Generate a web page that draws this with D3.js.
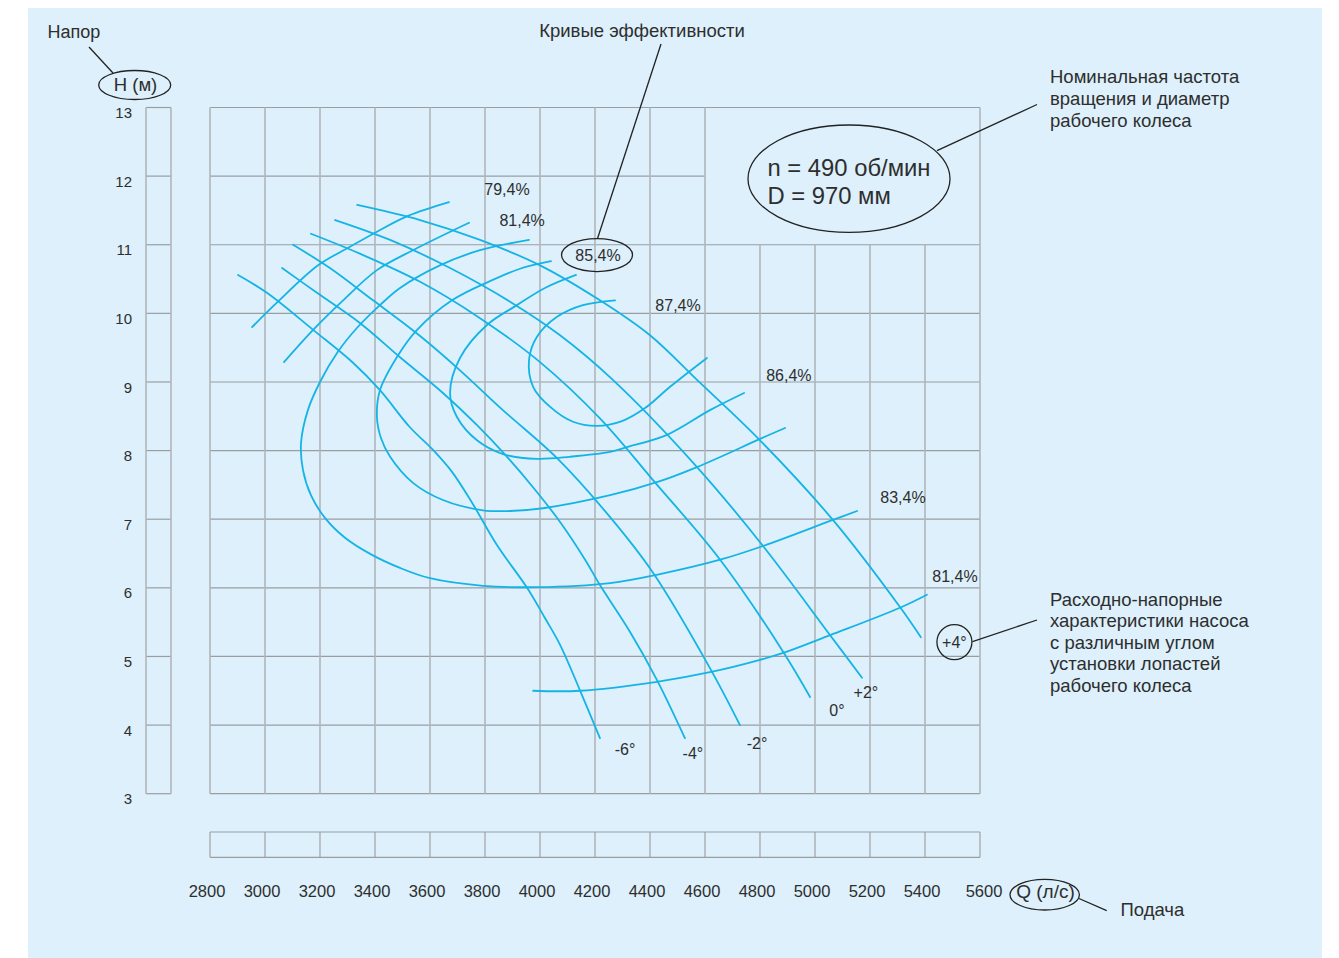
<!DOCTYPE html>
<html>
<head>
<meta charset="utf-8">
<script src="https://cdn.jsdelivr.net/npm/d3@7"></script>
<style>
  html, body { margin: 0; padding: 0; background: #ffffff; }
  svg { display: block; font-family: "Liberation Sans", Arial, sans-serif; }
</style>
</head>
<body>
<svg id="chart" width="1339" height="958"></svg>
<script>
// ---- Axis values ----
const flowTicks = [2800, 3000, 3200, 3400, 3600, 3800, 4000, 4200, 4400, 4600, 4800, 5000, 5200, 5400, 5600];
const headTicks = [3, 4, 5, 6, 7, 8, 9, 10, 11, 12, 13];

// ---- Pump head–flow characteristics, one per blade angle: [Q (l/s), H (m)] ----
const angleNames = ["-6°", "-4°", "-2°", "0°", "+2°", "+4°"];
const angleM6 = [[2902,10.56],[3007,10.30],[3175,9.76],[3320,9.28],[3418,8.88],[3527,8.34],[3611,8.01],[3680,7.69],[3753,7.24],[3844,6.62],[3953,6.00],[4018,5.56],[4073,5.17],[4145,4.51],[4218,3.81]];
const angleM4 = [[3062,10.66],[3189,10.30],[3345,9.86],[3491,9.36],[3647,8.84],[3771,8.37],[3873,7.94],[3982,7.43],[4073,6.96],[4164,6.41],[4218,6.04],[4327,5.36],[4425,4.66],[4527,3.81]];
const angleM2 = [[3102,11.00],[3236,10.66],[3393,10.19],[3564,9.67],[3709,9.17],[3865,8.59],[4062,7.89],[4255,7.03],[4411,6.22],[4618,4.83],[4727,4.00]];
const angle0  = [[3167,11.16],[3345,10.87],[3564,10.46],[3782,9.93],[4000,9.29],[4218,8.47],[4411,7.57],[4655,6.41],[4884,5.07],[4982,4.41]];
const angleP2 = [[3255,11.36],[3455,11.07],[3673,10.66],[3891,10.17],[4073,9.68],[4265,9.03],[4571,7.76],[4811,6.61],[5055,5.31],[5171,4.69]];
const angleP4 = [[3335,11.58],[3564,11.36],[3782,11.07],[4000,10.70],[4218,10.19],[4400,9.68],[4571,9.03],[4800,8.15],[5065,6.99],[5309,5.72],[5385,5.28]];
// where each angle name sits: [Q, H]
const angleLabelAt = [[4309,3.65],[4556,3.59],[4789,3.74],[5080,4.22],[5185,4.48],[5507,5.21]];

// ---- Efficiency contours: [Q (l/s), H (m)] ----
const effNames = ["79,4%", "81,4%", "83,4%", "85,4%", "86,4%", "87,4%", "81,4%"];
const eff794 = [[2953,9.80],[3047,10.17],[3193,10.70],[3309,10.97],[3407,11.19],[3520,11.42],[3669,11.62]];
const eff814Upper = [[3069,9.29],[3175,9.76],[3284,10.19],[3407,10.63],[3538,10.92],[3742,11.32]];
const eff834 = [[3960,11.07],[3782,10.92],[3636,10.70],[3491,10.37],[3418,10.12],[3335,9.79],[3265,9.44],[3200,9.00],[3156,8.59],[3131,8.11],[3138,7.72],[3167,7.35],[3218,7.02],[3291,6.73],[3389,6.48],[3491,6.29],[3600,6.14],[3793,6.03],[3989,6.01],[4255,6.07],[4436,6.20],[4655,6.41],[4811,6.61],[5065,6.99],[5153,7.12]];
const eff854 = [[4040,10.76],[3927,10.65],[3818,10.47],[3680,10.19],[3553,9.76],[3484,9.39],[3418,8.88],[3407,8.49],[3422,8.18],[3455,7.91],[3538,7.53],[3647,7.28],[3793,7.13],[3891,7.12],[4011,7.16],[4255,7.35],[4425,7.54],[4571,7.76],[4800,8.17],[4891,8.33]];
const eff864 = [[4131,10.56],[4018,10.37],[3916,10.12],[3807,9.83],[3709,9.35],[3673,8.84],[3698,8.49],[3771,8.15],[3865,7.95],[3989,7.88],[4109,7.91],[4255,7.98],[4316,8.05],[4462,8.23],[4618,8.59],[4742,8.84]];
const eff874 = [[4273,10.19],[4156,10.12],[4062,9.95],[3989,9.66],[3960,9.32],[3975,8.93],[4036,8.64],[4120,8.42],[4207,8.36],[4298,8.43],[4382,8.62],[4473,8.93],[4607,9.35]];
const eff814Lower = [[3975,4.50],[4145,4.50],[4425,4.63],[4618,4.77],[4800,4.95],[4898,5.07],[5055,5.31],[5309,5.71],[5407,5.90]];
// where each efficiency name sits: [Q, H]
const effLabelAt = [[3880,11.80],[3935,11.36],[5320,7.32],[4211,10.85],[4905,9.09],[4502,10.11],[5509,6.16]];

// ---- Rating text ----
const ratingLines = ["n = 490 об/мин", "D = 970 мм"];

// ---- Layout ----
const svg = d3.select("#chart");
const W = 1339, H = 958;
const ink = "#2e2e2e";
const cyan = "#14b4e6";
const gridV = "#b2b6ba";
const gridH = "#9a9ea3";

const x = d3.scaleLinear().domain([2800, 5600]).range([210, 980]);
const y = d3.scaleLinear().domain([3, 13]).range([793.7, 107.5]);

// backdrop panel
svg.append("rect").attr("x", 0).attr("y", 0).attr("width", W).attr("height", H).attr("fill", "#ffffff");
svg.append("rect").attr("x", 28).attr("y", 8).attr("width", 1294).attr("height", H - 8).attr("fill", "#ddf0fb");

const grid = svg.append("g");

// horizontal rules of the main field (the 12 m rule stops where the rating box begins)
grid.selectAll("line.h").data(headTicks).join("line")
  .attr("x1", x(2800))
  .attr("x2", d => d === 12 ? x(4600) : x(5600))
  .attr("y1", d => y(d)).attr("y2", d => y(d))
  .attr("stroke", gridH).attr("stroke-width", 1.2);

// vertical rules (the columns under the rating box start at 11 m)
grid.selectAll("line.v").data(flowTicks).join("line")
  .attr("x1", d => x(d)).attr("x2", d => x(d))
  .attr("y1", d => (d > 4600 && d < 5600) ? y(11) : y(13))
  .attr("y2", y(3))
  .attr("stroke", gridV).attr("stroke-width", 1.6);

// narrow head scale strip on the left
const stripL = 146, stripR = 171;
grid.selectAll("line.sh").data(headTicks).join("line")
  .attr("x1", stripL).attr("x2", stripR)
  .attr("y1", d => y(d)).attr("y2", d => y(d))
  .attr("stroke", gridH).attr("stroke-width", 1.2);
[stripL, stripR].forEach(sx => {
  grid.append("line").attr("x1", sx).attr("x2", sx).attr("y1", y(13)).attr("y2", y(3))
    .attr("stroke", gridV).attr("stroke-width", 1.6);
});

// flow scale strip under the field
const stripT = 832, stripB = 857.3;
grid.selectAll("line.sv").data(flowTicks).join("line")
  .attr("x1", d => x(d)).attr("x2", d => x(d))
  .attr("y1", stripT).attr("y2", stripB)
  .attr("stroke", gridV).attr("stroke-width", 1.6);
[stripT, stripB].forEach(sy => {
  grid.append("line").attr("x1", x(2800)).attr("x2", x(5600)).attr("y1", sy).attr("y2", sy)
    .attr("stroke", gridH).attr("stroke-width", 1.2);
});

// tick labels
svg.append("g").selectAll("text").data(headTicks).join("text")
  .attr("x", 132).attr("y", d => y(d) + 10.6)
  .attr("text-anchor", "end").attr("font-size", 15).attr("fill", ink)
  .text(d => d);

svg.append("g").selectAll("text").data(flowTicks).join("text")
  .attr("x", (d, i) => x(d) + (i === flowTicks.length - 1 ? 4 : -3)).attr("y", 897)
  .attr("text-anchor", "middle").attr("font-size", 16.5).attr("fill", ink)
  .text(d => d);

// ---- curves ----
const line = d3.line().x(d => x(d[0])).y(d => y(d[1])).curve(d3.curveCatmullRom.alpha(0.5));
const curves = [angleM6, angleM4, angleM2, angle0, angleP2, angleP4,
                eff794, eff814Upper, eff834, eff854, eff864, eff874, eff814Lower];
svg.append("g").selectAll("path").data(curves).join("path")
  .attr("d", line)
  .attr("fill", "none").attr("stroke", cyan).attr("stroke-width", 1.8)
  .attr("stroke-linecap", "round");

// ---- curve names ----
const labels = svg.append("g").attr("font-size", 16).attr("fill", ink).attr("text-anchor", "middle");
effNames.forEach((t, i) => {
  labels.append("text").attr("x", x(effLabelAt[i][0])).attr("y", y(effLabelAt[i][1]))
    .attr("dy", "0.35em").text(t);
});
angleNames.forEach((t, i) => {
  labels.append("text").attr("x", x(angleLabelAt[i][0])).attr("y", y(angleLabelAt[i][1]))
    .attr("dy", "0.35em").text(t);
});

// outlines around highlighted names
const outline = svg.append("g").attr("fill", "none").attr("stroke", "#222").attr("stroke-width", 1.3);
const e85 = effLabelAt[3];
outline.append("ellipse").attr("cx", x(e85[0]) - 1).attr("cy", y(e85[1]))
  .attr("rx", 35.5).attr("ry", 16.5);
const a4 = angleLabelAt[5];
outline.append("circle").attr("cx", x(a4[0])).attr("cy", y(a4[1])).attr("r", 17.5);

// ---- annotations ----
const note = svg.append("g").attr("fill", ink).attr("font-size", 18.5);

// head axis title
note.append("text").attr("x", 47.5).attr("y", 38).attr("font-size", 18).text("Напор");
outline.append("line").attr("x1", 89).attr("y1", 47).attr("x2", 113).attr("y2", 73);
outline.append("ellipse").attr("cx", 134.7).attr("cy", 85).attr("rx", 36).attr("ry", 14.5);
note.append("text").attr("x", 135.5).attr("y", 85).attr("dy", "0.35em")
  .attr("text-anchor", "middle").text("H (м)");

// efficiency contours caption with leader to the 85,4% name
note.append("text").attr("x", 642).attr("y", 31).attr("dy", "0.35em")
  .attr("text-anchor", "middle").text("Кривые эффективности");
outline.append("line").attr("x1", 661).attr("y1", 44)
  .attr("x2", x(e85[0]) - 0.5).attr("y2", y(e85[1]) - 16.5);

// rating ellipse with leader
outline.append("ellipse").attr("cx", 849).attr("cy", 178.7).attr("rx", 101).attr("ry", 53.7);
ratingLines.forEach((t, i) => {
  note.append("text").attr("x", 767.5).attr("y", 175.8 + i * 28.6)
    .attr("font-size", 23.8).text(t);
});
outline.append("line").attr("x1", 937).attr("y1", 150.7).attr("x2", 1037).attr("y2", 104.5);
["Номинальная частота", "вращения и диаметр", "рабочего колеса"].forEach((t, i) => {
  note.append("text").attr("x", 1050).attr("y", 77 + i * 22).attr("dy", "0.35em").text(t);
});

// blade-angle caption with leader to the +4° name
outline.append("line").attr("x1", x(a4[0]) + 18).attr("y1", y(a4[1]) - 0.5)
  .attr("x2", 1037).attr("y2", 620);
["Расходно-напорные", "характеристики насоса", "с различным углом", "установки лопастей", "рабочего колеса"]
  .forEach((t, i) => {
    note.append("text").attr("x", 1050).attr("y", 599.5 + i * 21.4).attr("dy", "0.35em").text(t);
  });

// flow axis title
outline.append("ellipse").attr("cx", 1044.7).attr("cy", 894.7).attr("rx", 34.7).attr("ry", 15.3);
note.append("text").attr("x", 1045.5).attr("y", 891.5).attr("dy", "0.35em")
  .attr("text-anchor", "middle").attr("font-size", 19).text("Q (л/с)");
outline.append("line").attr("x1", 1079).attr("y1", 898.5).attr("x2", 1106.7).attr("y2", 910.7);
note.append("text").attr("x", 1120.5).attr("y", 909.6).attr("dy", "0.35em").text("Подача");
</script>
</body>
</html>
